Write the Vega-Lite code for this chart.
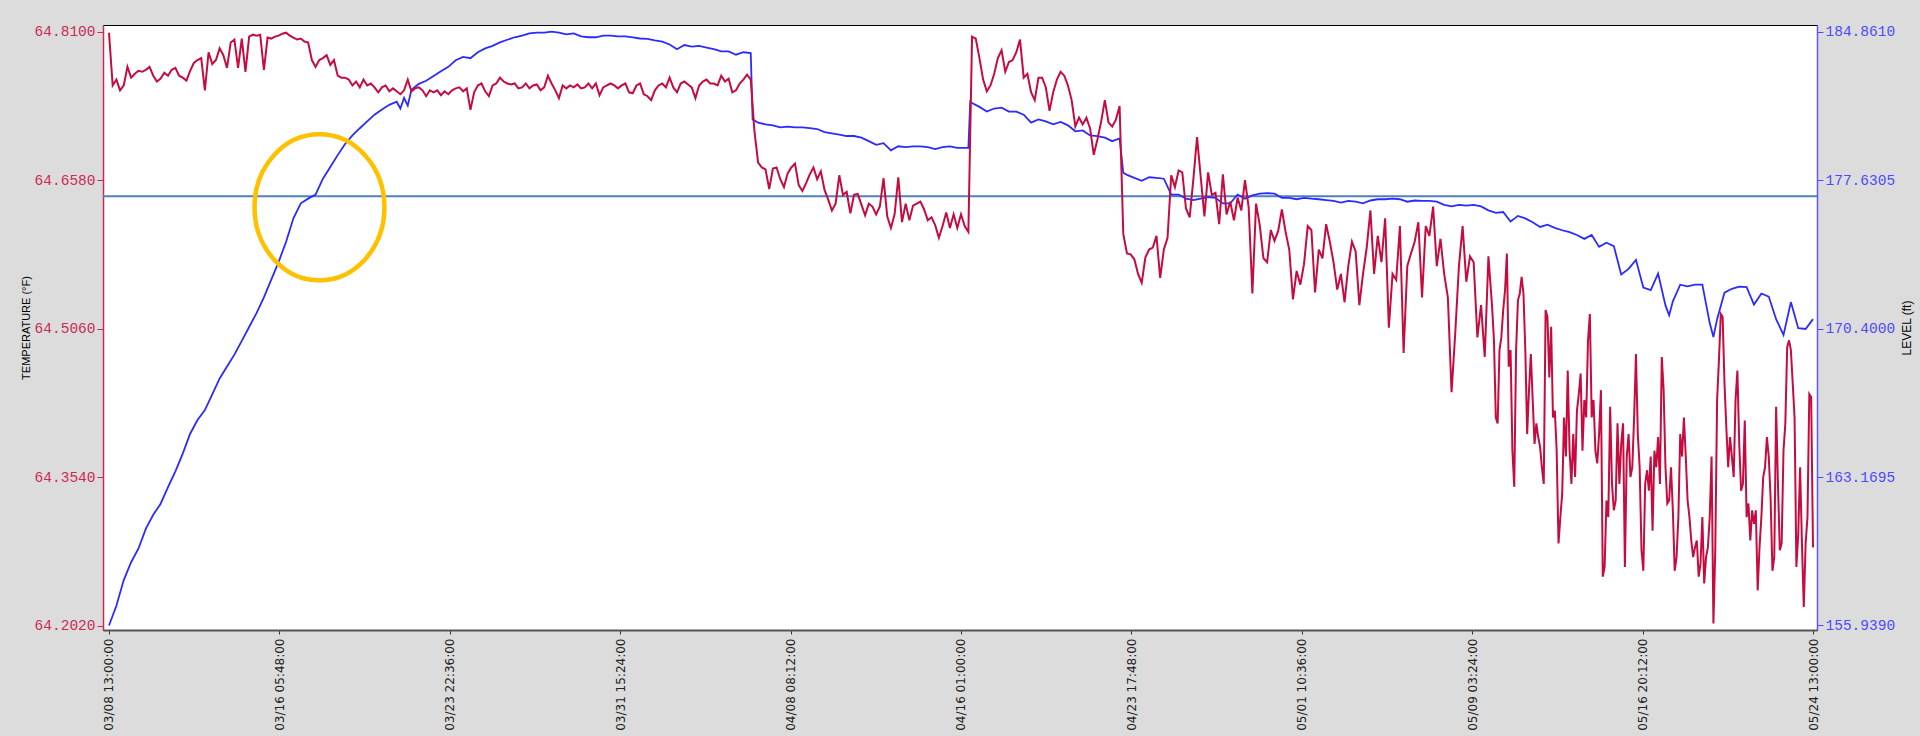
{
  "$schema": "https://vega.github.io/schema/vega-lite/v6.json",
  "width": 1714,
  "height": 605,
  "autosize": {"type": "none"},
  "padding": {"left": 103, "top": 25, "right": 103, "bottom": 106},
  "background": "#DCDCDC",
  "config": {
    "view": {"fill": "#FFFFFF", "stroke": "#000000", "strokeWidth": 1},
    "axis": {"grid": false},
    "axisX": {
      "orient": "bottom", "title": null,
      "format": "%m/%d %H:%M:%S", "labelAngle": 270,
      "labelFont": "DejaVu Sans", "labelFontSize": 12, "labelColor": "#222222", "labelPadding": 4,
      "tickSize": 4, "tickColor": "#333333", "domainColor": "#555555", "domainWidth": 2,
      "labelOverlap": false, "labelFlush": false, "labelBound": false
    }
  },
  "datasets": {
    "temperature": [
      {"time": "2011-03-08T13:00", "temp": 64.809}, {"time": "2011-03-08T17:00", "temp": 64.755}, {"time": "2011-03-08T21:00", "temp": 64.761},
      {"time": "2011-03-09T01:00", "temp": 64.750}, {"time": "2011-03-09T05:00", "temp": 64.755}, {"time": "2011-03-09T09:00", "temp": 64.774},
      {"time": "2011-03-09T13:00", "temp": 64.763}, {"time": "2011-03-09T17:00", "temp": 64.767}, {"time": "2011-03-09T21:00", "temp": 64.770},
      {"time": "2011-03-10T01:00", "temp": 64.769}, {"time": "2011-03-10T05:00", "temp": 64.771}, {"time": "2011-03-10T09:00", "temp": 64.774},
      {"time": "2011-03-10T13:00", "temp": 64.765}, {"time": "2011-03-10T17:00", "temp": 64.759}, {"time": "2011-03-10T21:00", "temp": 64.762},
      {"time": "2011-03-11T01:00", "temp": 64.768}, {"time": "2011-03-11T05:00", "temp": 64.765}, {"time": "2011-03-11T09:00", "temp": 64.771},
      {"time": "2011-03-11T13:00", "temp": 64.773}, {"time": "2011-03-11T17:00", "temp": 64.765}, {"time": "2011-03-11T21:00", "temp": 64.763},
      {"time": "2011-03-12T01:00", "temp": 64.760}, {"time": "2011-03-12T05:00", "temp": 64.770}, {"time": "2011-03-12T09:00", "temp": 64.778},
      {"time": "2011-03-12T13:00", "temp": 64.781}, {"time": "2011-03-12T17:00", "temp": 64.783}, {"time": "2011-03-12T21:00", "temp": 64.750},
      {"time": "2011-03-13T01:00", "temp": 64.789}, {"time": "2011-03-13T05:00", "temp": 64.777}, {"time": "2011-03-13T09:00", "temp": 64.781},
      {"time": "2011-03-13T13:00", "temp": 64.793}, {"time": "2011-03-13T17:00", "temp": 64.786}, {"time": "2011-03-13T21:00", "temp": 64.773},
      {"time": "2011-03-14T01:00", "temp": 64.799}, {"time": "2011-03-14T05:00", "temp": 64.802}, {"time": "2011-03-14T09:00", "temp": 64.773},
      {"time": "2011-03-14T13:00", "temp": 64.803}, {"time": "2011-03-14T17:00", "temp": 64.769}, {"time": "2011-03-14T21:00", "temp": 64.805},
      {"time": "2011-03-15T01:00", "temp": 64.807}, {"time": "2011-03-15T05:00", "temp": 64.806}, {"time": "2011-03-15T09:00", "temp": 64.807},
      {"time": "2011-03-15T13:00", "temp": 64.771}, {"time": "2011-03-15T17:00", "temp": 64.804}, {"time": "2011-03-15T21:00", "temp": 64.803},
      {"time": "2011-03-16T01:00", "temp": 64.805}, {"time": "2011-03-16T05:00", "temp": 64.806}, {"time": "2011-03-16T09:00", "temp": 64.808},
      {"time": "2011-03-16T13:00", "temp": 64.809}, {"time": "2011-03-16T17:00", "temp": 64.806}, {"time": "2011-03-16T21:00", "temp": 64.804},
      {"time": "2011-03-17T01:00", "temp": 64.802}, {"time": "2011-03-17T05:00", "temp": 64.803}, {"time": "2011-03-17T09:00", "temp": 64.800},
      {"time": "2011-03-17T13:00", "temp": 64.799}, {"time": "2011-03-17T17:00", "temp": 64.781}, {"time": "2011-03-17T21:00", "temp": 64.774},
      {"time": "2011-03-18T01:00", "temp": 64.781}, {"time": "2011-03-18T05:00", "temp": 64.783}, {"time": "2011-03-18T09:00", "temp": 64.786},
      {"time": "2011-03-18T13:00", "temp": 64.776}, {"time": "2011-03-18T17:00", "temp": 64.781}, {"time": "2011-03-18T21:00", "temp": 64.765},
      {"time": "2011-03-19T01:00", "temp": 64.763}, {"time": "2011-03-19T05:00", "temp": 64.763}, {"time": "2011-03-19T09:00", "temp": 64.761},
      {"time": "2011-03-19T13:00", "temp": 64.755}, {"time": "2011-03-19T17:00", "temp": 64.759}, {"time": "2011-03-19T21:00", "temp": 64.753},
      {"time": "2011-03-20T01:00", "temp": 64.761}, {"time": "2011-03-20T05:00", "temp": 64.755}, {"time": "2011-03-20T09:00", "temp": 64.757},
      {"time": "2011-03-20T13:00", "temp": 64.753}, {"time": "2011-03-20T17:00", "temp": 64.748}, {"time": "2011-03-20T21:00", "temp": 64.753},
      {"time": "2011-03-21T01:00", "temp": 64.755}, {"time": "2011-03-21T05:00", "temp": 64.749}, {"time": "2011-03-21T09:00", "temp": 64.752},
      {"time": "2011-03-21T13:00", "temp": 64.749}, {"time": "2011-03-21T17:00", "temp": 64.746}, {"time": "2011-03-21T21:00", "temp": 64.750},
      {"time": "2011-03-22T01:00", "temp": 64.761}, {"time": "2011-03-22T05:00", "temp": 64.749}, {"time": "2011-03-22T09:00", "temp": 64.752},
      {"time": "2011-03-22T13:00", "temp": 64.753}, {"time": "2011-03-22T17:00", "temp": 64.750}, {"time": "2011-03-22T21:00", "temp": 64.744},
      {"time": "2011-03-23T01:00", "temp": 64.750}, {"time": "2011-03-23T05:00", "temp": 64.748}, {"time": "2011-03-23T09:00", "temp": 64.750},
      {"time": "2011-03-23T13:00", "temp": 64.745}, {"time": "2011-03-23T17:00", "temp": 64.749}, {"time": "2011-03-23T21:00", "temp": 64.746},
      {"time": "2011-03-24T01:00", "temp": 64.750}, {"time": "2011-03-24T05:00", "temp": 64.752}, {"time": "2011-03-24T09:00", "temp": 64.753},
      {"time": "2011-03-24T13:00", "temp": 64.749}, {"time": "2011-03-24T17:00", "temp": 64.752}, {"time": "2011-03-24T21:00", "temp": 64.730},
      {"time": "2011-03-25T01:00", "temp": 64.748}, {"time": "2011-03-25T05:00", "temp": 64.755}, {"time": "2011-03-25T09:00", "temp": 64.757},
      {"time": "2011-03-25T13:00", "temp": 64.749}, {"time": "2011-03-25T17:00", "temp": 64.744}, {"time": "2011-03-25T21:00", "temp": 64.755},
      {"time": "2011-03-26T01:00", "temp": 64.757}, {"time": "2011-03-26T05:00", "temp": 64.763}, {"time": "2011-03-26T09:00", "temp": 64.759},
      {"time": "2011-03-26T13:00", "temp": 64.757}, {"time": "2011-03-26T17:00", "temp": 64.756}, {"time": "2011-03-26T21:00", "temp": 64.757},
      {"time": "2011-03-27T01:00", "temp": 64.752}, {"time": "2011-03-27T05:00", "temp": 64.753}, {"time": "2011-03-27T09:00", "temp": 64.757},
      {"time": "2011-03-27T13:00", "temp": 64.752}, {"time": "2011-03-27T17:00", "temp": 64.755}, {"time": "2011-03-27T21:00", "temp": 64.756},
      {"time": "2011-03-28T01:00", "temp": 64.750}, {"time": "2011-03-28T05:00", "temp": 64.753}, {"time": "2011-03-28T09:00", "temp": 64.765},
      {"time": "2011-03-28T13:00", "temp": 64.757}, {"time": "2011-03-28T17:00", "temp": 64.750}, {"time": "2011-03-28T21:00", "temp": 64.742},
      {"time": "2011-03-29T01:00", "temp": 64.755}, {"time": "2011-03-29T05:00", "temp": 64.752}, {"time": "2011-03-29T09:00", "temp": 64.755},
      {"time": "2011-03-29T13:00", "temp": 64.753}, {"time": "2011-03-29T17:00", "temp": 64.756}, {"time": "2011-03-29T21:00", "temp": 64.752},
      {"time": "2011-03-30T01:00", "temp": 64.753}, {"time": "2011-03-30T05:00", "temp": 64.757}, {"time": "2011-03-30T09:00", "temp": 64.752},
      {"time": "2011-03-30T13:00", "temp": 64.757}, {"time": "2011-03-30T17:00", "temp": 64.745}, {"time": "2011-03-30T21:00", "temp": 64.753},
      {"time": "2011-03-31T01:00", "temp": 64.755}, {"time": "2011-03-31T05:00", "temp": 64.757}, {"time": "2011-03-31T09:00", "temp": 64.755},
      {"time": "2011-03-31T13:00", "temp": 64.752}, {"time": "2011-03-31T17:00", "temp": 64.755}, {"time": "2011-03-31T21:00", "temp": 64.757},
      {"time": "2011-04-01T01:00", "temp": 64.748}, {"time": "2011-04-01T05:00", "temp": 64.747}, {"time": "2011-04-01T09:00", "temp": 64.755},
      {"time": "2011-04-01T13:00", "temp": 64.757}, {"time": "2011-04-01T17:00", "temp": 64.746}, {"time": "2011-04-01T21:00", "temp": 64.744},
      {"time": "2011-04-02T01:00", "temp": 64.740}, {"time": "2011-04-02T05:00", "temp": 64.750}, {"time": "2011-04-02T09:00", "temp": 64.755},
      {"time": "2011-04-02T13:00", "temp": 64.757}, {"time": "2011-04-02T17:00", "temp": 64.753}, {"time": "2011-04-02T21:00", "temp": 64.763},
      {"time": "2011-04-03T01:00", "temp": 64.753}, {"time": "2011-04-03T05:00", "temp": 64.748}, {"time": "2011-04-03T09:00", "temp": 64.757},
      {"time": "2011-04-03T13:00", "temp": 64.759}, {"time": "2011-04-03T17:00", "temp": 64.756}, {"time": "2011-04-03T21:00", "temp": 64.753},
      {"time": "2011-04-04T01:00", "temp": 64.742}, {"time": "2011-04-04T05:00", "temp": 64.755}, {"time": "2011-04-04T09:00", "temp": 64.759},
      {"time": "2011-04-04T13:00", "temp": 64.761}, {"time": "2011-04-04T17:00", "temp": 64.757}, {"time": "2011-04-04T21:00", "temp": 64.757},
      {"time": "2011-04-05T01:00", "temp": 64.755}, {"time": "2011-04-05T05:00", "temp": 64.765}, {"time": "2011-04-05T09:00", "temp": 64.759},
      {"time": "2011-04-05T13:00", "temp": 64.762}, {"time": "2011-04-05T17:00", "temp": 64.748}, {"time": "2011-04-05T21:00", "temp": 64.750},
      {"time": "2011-04-06T01:00", "temp": 64.757}, {"time": "2011-04-06T05:00", "temp": 64.761}, {"time": "2011-04-06T09:00", "temp": 64.766},
      {"time": "2011-04-06T13:00", "temp": 64.761}, {"time": "2011-04-06T17:00", "temp": 64.708}, {"time": "2011-04-06T21:00", "temp": 64.676},
      {"time": "2011-04-07T01:00", "temp": 64.671}, {"time": "2011-04-07T05:00", "temp": 64.669}, {"time": "2011-04-07T09:00", "temp": 64.649},
      {"time": "2011-04-07T13:00", "temp": 64.670}, {"time": "2011-04-07T17:00", "temp": 64.671}, {"time": "2011-04-07T21:00", "temp": 64.659},
      {"time": "2011-04-08T01:00", "temp": 64.651}, {"time": "2011-04-08T05:00", "temp": 64.665}, {"time": "2011-04-08T09:00", "temp": 64.671},
      {"time": "2011-04-08T13:00", "temp": 64.675}, {"time": "2011-04-08T17:00", "temp": 64.653}, {"time": "2011-04-08T21:00", "temp": 64.647},
      {"time": "2011-04-09T01:00", "temp": 64.655}, {"time": "2011-04-09T05:00", "temp": 64.664}, {"time": "2011-04-09T09:00", "temp": 64.671},
      {"time": "2011-04-09T13:00", "temp": 64.659}, {"time": "2011-04-09T17:00", "temp": 64.667}, {"time": "2011-04-09T21:00", "temp": 64.648},
      {"time": "2011-04-10T01:00", "temp": 64.638}, {"time": "2011-04-10T05:00", "temp": 64.627}, {"time": "2011-04-10T09:00", "temp": 64.634},
      {"time": "2011-04-10T13:00", "temp": 64.663}, {"time": "2011-04-10T17:00", "temp": 64.643}, {"time": "2011-04-10T21:00", "temp": 64.646},
      {"time": "2011-04-11T01:00", "temp": 64.624}, {"time": "2011-04-11T05:00", "temp": 64.643}, {"time": "2011-04-11T09:00", "temp": 64.644},
      {"time": "2011-04-11T13:00", "temp": 64.633}, {"time": "2011-04-11T17:00", "temp": 64.622}, {"time": "2011-04-11T21:00", "temp": 64.634},
      {"time": "2011-04-12T01:00", "temp": 64.631}, {"time": "2011-04-12T05:00", "temp": 64.623}, {"time": "2011-04-12T09:00", "temp": 64.631},
      {"time": "2011-04-12T13:00", "temp": 64.660}, {"time": "2011-04-12T17:00", "temp": 64.621}, {"time": "2011-04-12T21:00", "temp": 64.609},
      {"time": "2011-04-13T01:00", "temp": 64.623}, {"time": "2011-04-13T05:00", "temp": 64.661}, {"time": "2011-04-13T09:00", "temp": 64.615},
      {"time": "2011-04-13T13:00", "temp": 64.634}, {"time": "2011-04-13T17:00", "temp": 64.617}, {"time": "2011-04-13T21:00", "temp": 64.632},
      {"time": "2011-04-14T01:00", "temp": 64.634}, {"time": "2011-04-14T05:00", "temp": 64.636}, {"time": "2011-04-14T09:00", "temp": 64.628},
      {"time": "2011-04-14T13:00", "temp": 64.617}, {"time": "2011-04-14T17:00", "temp": 64.620}, {"time": "2011-04-14T21:00", "temp": 64.612},
      {"time": "2011-04-15T01:00", "temp": 64.599}, {"time": "2011-04-15T05:00", "temp": 64.611}, {"time": "2011-04-15T09:00", "temp": 64.625},
      {"time": "2011-04-15T13:00", "temp": 64.609}, {"time": "2011-04-15T17:00", "temp": 64.623}, {"time": "2011-04-15T21:00", "temp": 64.609},
      {"time": "2011-04-16T01:00", "temp": 64.623}, {"time": "2011-04-16T05:00", "temp": 64.611}, {"time": "2011-04-16T09:00", "temp": 64.605},
      {"time": "2011-04-16T13:00", "temp": 64.805}, {"time": "2011-04-16T17:00", "temp": 64.803}, {"time": "2011-04-16T21:00", "temp": 64.783},
      {"time": "2011-04-17T01:00", "temp": 64.761}, {"time": "2011-04-17T05:00", "temp": 64.749}, {"time": "2011-04-17T09:00", "temp": 64.755},
      {"time": "2011-04-17T13:00", "temp": 64.767}, {"time": "2011-04-17T17:00", "temp": 64.783}, {"time": "2011-04-17T21:00", "temp": 64.791},
      {"time": "2011-04-18T01:00", "temp": 64.769}, {"time": "2011-04-18T05:00", "temp": 64.779}, {"time": "2011-04-18T09:00", "temp": 64.781},
      {"time": "2011-04-18T13:00", "temp": 64.789}, {"time": "2011-04-18T17:00", "temp": 64.802}, {"time": "2011-04-18T21:00", "temp": 64.763},
      {"time": "2011-04-19T01:00", "temp": 64.767}, {"time": "2011-04-19T05:00", "temp": 64.748}, {"time": "2011-04-19T09:00", "temp": 64.740},
      {"time": "2011-04-19T13:00", "temp": 64.763}, {"time": "2011-04-19T17:00", "temp": 64.763}, {"time": "2011-04-19T21:00", "temp": 64.753},
      {"time": "2011-04-20T01:00", "temp": 64.729}, {"time": "2011-04-20T05:00", "temp": 64.748}, {"time": "2011-04-20T09:00", "temp": 64.761},
      {"time": "2011-04-20T13:00", "temp": 64.769}, {"time": "2011-04-20T17:00", "temp": 64.765}, {"time": "2011-04-20T21:00", "temp": 64.755},
      {"time": "2011-04-21T01:00", "temp": 64.740}, {"time": "2011-04-21T05:00", "temp": 64.713}, {"time": "2011-04-21T09:00", "temp": 64.722},
      {"time": "2011-04-21T13:00", "temp": 64.715}, {"time": "2011-04-21T17:00", "temp": 64.722}, {"time": "2011-04-21T21:00", "temp": 64.711},
      {"time": "2011-04-22T01:00", "temp": 64.684}, {"time": "2011-04-22T05:00", "temp": 64.700}, {"time": "2011-04-22T09:00", "temp": 64.718},
      {"time": "2011-04-22T13:00", "temp": 64.740}, {"time": "2011-04-22T17:00", "temp": 64.717}, {"time": "2011-04-22T21:00", "temp": 64.713},
      {"time": "2011-04-23T01:00", "temp": 64.720}, {"time": "2011-04-23T05:00", "temp": 64.734}, {"time": "2011-04-23T09:00", "temp": 64.603},
      {"time": "2011-04-23T13:00", "temp": 64.583}, {"time": "2011-04-23T17:00", "temp": 64.582}, {"time": "2011-04-23T21:00", "temp": 64.577},
      {"time": "2011-04-24T01:00", "temp": 64.562}, {"time": "2011-04-24T05:00", "temp": 64.553}, {"time": "2011-04-24T09:00", "temp": 64.579},
      {"time": "2011-04-24T13:00", "temp": 64.587}, {"time": "2011-04-24T17:00", "temp": 64.589}, {"time": "2011-04-24T21:00", "temp": 64.601},
      {"time": "2011-04-25T01:00", "temp": 64.558}, {"time": "2011-04-25T05:00", "temp": 64.587}, {"time": "2011-04-25T09:00", "temp": 64.599},
      {"time": "2011-04-25T13:00", "temp": 64.663}, {"time": "2011-04-25T17:00", "temp": 64.651}, {"time": "2011-04-25T21:00", "temp": 64.668},
      {"time": "2011-04-26T01:00", "temp": 64.666}, {"time": "2011-04-26T05:00", "temp": 64.629}, {"time": "2011-04-26T09:00", "temp": 64.620},
      {"time": "2011-04-26T13:00", "temp": 64.659}, {"time": "2011-04-26T17:00", "temp": 64.702}, {"time": "2011-04-26T21:00", "temp": 64.661},
      {"time": "2011-04-27T01:00", "temp": 64.621}, {"time": "2011-04-27T05:00", "temp": 64.666}, {"time": "2011-04-27T09:00", "temp": 64.643},
      {"time": "2011-04-27T13:00", "temp": 64.645}, {"time": "2011-04-27T17:00", "temp": 64.613}, {"time": "2011-04-27T21:00", "temp": 64.664},
      {"time": "2011-04-28T01:00", "temp": 64.623}, {"time": "2011-04-28T05:00", "temp": 64.636}, {"time": "2011-04-28T09:00", "temp": 64.617},
      {"time": "2011-04-28T13:00", "temp": 64.640}, {"time": "2011-04-28T17:00", "temp": 64.627}, {"time": "2011-04-28T21:00", "temp": 64.658},
      {"time": "2011-04-29T01:00", "temp": 64.630}, {"time": "2011-04-29T05:00", "temp": 64.542}, {"time": "2011-04-29T09:00", "temp": 64.634},
      {"time": "2011-04-29T13:00", "temp": 64.612}, {"time": "2011-04-29T17:00", "temp": 64.578}, {"time": "2011-04-29T21:00", "temp": 64.574},
      {"time": "2011-04-30T01:00", "temp": 64.607}, {"time": "2011-04-30T05:00", "temp": 64.596}, {"time": "2011-04-30T09:00", "temp": 64.606},
      {"time": "2011-04-30T13:00", "temp": 64.628}, {"time": "2011-04-30T17:00", "temp": 64.605}, {"time": "2011-04-30T21:00", "temp": 64.587},
      {"time": "2011-05-01T01:00", "temp": 64.536}, {"time": "2011-05-01T05:00", "temp": 64.565}, {"time": "2011-05-01T09:00", "temp": 64.551},
      {"time": "2011-05-01T13:00", "temp": 64.572}, {"time": "2011-05-01T17:00", "temp": 64.611}, {"time": "2011-05-01T21:00", "temp": 64.607},
      {"time": "2011-05-02T01:00", "temp": 64.543}, {"time": "2011-05-02T05:00", "temp": 64.587}, {"time": "2011-05-02T09:00", "temp": 64.578},
      {"time": "2011-05-02T13:00", "temp": 64.613}, {"time": "2011-05-02T17:00", "temp": 64.595}, {"time": "2011-05-02T21:00", "temp": 64.574},
      {"time": "2011-05-03T01:00", "temp": 64.546}, {"time": "2011-05-03T05:00", "temp": 64.562}, {"time": "2011-05-03T09:00", "temp": 64.533},
      {"time": "2011-05-03T13:00", "temp": 64.570}, {"time": "2011-05-03T17:00", "temp": 64.595}, {"time": "2011-05-03T21:00", "temp": 64.585},
      {"time": "2011-05-04T01:00", "temp": 64.530}, {"time": "2011-05-04T05:00", "temp": 64.562}, {"time": "2011-05-04T09:00", "temp": 64.589},
      {"time": "2011-05-04T13:00", "temp": 64.627}, {"time": "2011-05-04T17:00", "temp": 64.562}, {"time": "2011-05-04T21:00", "temp": 64.601},
      {"time": "2011-05-05T01:00", "temp": 64.574}, {"time": "2011-05-05T05:00", "temp": 64.619}, {"time": "2011-05-05T09:00", "temp": 64.507},
      {"time": "2011-05-05T13:00", "temp": 64.562}, {"time": "2011-05-05T17:00", "temp": 64.556}, {"time": "2011-05-05T21:00", "temp": 64.611},
      {"time": "2011-05-06T01:00", "temp": 64.481}, {"time": "2011-05-06T05:00", "temp": 64.570}, {"time": "2011-05-06T09:00", "temp": 64.583},
      {"time": "2011-05-06T13:00", "temp": 64.595}, {"time": "2011-05-06T17:00", "temp": 64.615}, {"time": "2011-05-06T21:00", "temp": 64.538},
      {"time": "2011-05-07T01:00", "temp": 64.611}, {"time": "2011-05-07T05:00", "temp": 64.601}, {"time": "2011-05-07T09:00", "temp": 64.631},
      {"time": "2011-05-07T13:00", "temp": 64.570}, {"time": "2011-05-07T17:00", "temp": 64.598}, {"time": "2011-05-07T21:00", "temp": 64.562},
      {"time": "2011-05-08T01:00", "temp": 64.538}, {"time": "2011-05-08T05:00", "temp": 64.441}, {"time": "2011-05-08T09:00", "temp": 64.501},
      {"time": "2011-05-08T13:00", "temp": 64.570}, {"time": "2011-05-08T17:00", "temp": 64.611}, {"time": "2011-05-08T21:00", "temp": 64.554},
      {"time": "2011-05-09T01:00", "temp": 64.580}, {"time": "2011-05-09T05:00", "temp": 64.574}, {"time": "2011-05-09T09:00", "temp": 64.497},
      {"time": "2011-05-09T13:00", "temp": 64.530}, {"time": "2011-05-09T17:00", "temp": 64.477}, {"time": "2011-05-09T21:00", "temp": 64.580},
      {"time": "2011-05-10T01:00", "temp": 64.528}, {"time": "2011-05-10T03:00", "temp": 64.494}, {"time": "2011-05-10T05:00", "temp": 64.415},
      {"time": "2011-05-10T07:00", "temp": 64.409}, {"time": "2011-05-10T09:00", "temp": 64.484}, {"time": "2011-05-10T11:00", "temp": 64.497},
      {"time": "2011-05-10T13:00", "temp": 64.525}, {"time": "2011-05-10T15:00", "temp": 64.545}, {"time": "2011-05-10T17:00", "temp": 64.583},
      {"time": "2011-05-10T19:00", "temp": 64.467}, {"time": "2011-05-10T21:00", "temp": 64.484}, {"time": "2011-05-10T23:00", "temp": 64.381},
      {"time": "2011-05-11T01:00", "temp": 64.344}, {"time": "2011-05-11T03:00", "temp": 64.484}, {"time": "2011-05-11T05:00", "temp": 64.535},
      {"time": "2011-05-11T07:00", "temp": 64.542}, {"time": "2011-05-11T09:00", "temp": 64.559}, {"time": "2011-05-11T11:00", "temp": 64.542},
      {"time": "2011-05-11T13:00", "temp": 64.484}, {"time": "2011-05-11T15:00", "temp": 64.398}, {"time": "2011-05-11T17:00", "temp": 64.443},
      {"time": "2011-05-11T19:00", "temp": 64.480}, {"time": "2011-05-11T21:00", "temp": 64.433}, {"time": "2011-05-11T23:00", "temp": 64.388},
      {"time": "2011-05-12T01:00", "temp": 64.409}, {"time": "2011-05-12T03:00", "temp": 64.395}, {"time": "2011-05-12T05:00", "temp": 64.385},
      {"time": "2011-05-12T07:00", "temp": 64.364}, {"time": "2011-05-12T09:00", "temp": 64.347}, {"time": "2011-05-12T11:00", "temp": 64.525},
      {"time": "2011-05-12T13:00", "temp": 64.518}, {"time": "2011-05-12T15:00", "temp": 64.456}, {"time": "2011-05-12T17:00", "temp": 64.508},
      {"time": "2011-05-12T19:00", "temp": 64.415}, {"time": "2011-05-12T21:00", "temp": 64.422}, {"time": "2011-05-12T23:00", "temp": 64.381},
      {"time": "2011-05-13T01:00", "temp": 64.286}, {"time": "2011-05-13T03:00", "temp": 64.313}, {"time": "2011-05-13T05:00", "temp": 64.337},
      {"time": "2011-05-13T07:00", "temp": 64.415}, {"time": "2011-05-13T09:00", "temp": 64.375}, {"time": "2011-05-13T11:00", "temp": 64.463},
      {"time": "2011-05-13T13:00", "temp": 64.381}, {"time": "2011-05-13T15:00", "temp": 64.347}, {"time": "2011-05-13T17:00", "temp": 64.398},
      {"time": "2011-05-13T19:00", "temp": 64.354}, {"time": "2011-05-13T21:00", "temp": 64.422}, {"time": "2011-05-13T23:00", "temp": 64.439},
      {"time": "2011-05-14T01:00", "temp": 64.460}, {"time": "2011-05-14T03:00", "temp": 64.381}, {"time": "2011-05-14T05:00", "temp": 64.433},
      {"time": "2011-05-14T07:00", "temp": 64.415}, {"time": "2011-05-14T09:00", "temp": 64.494}, {"time": "2011-05-14T11:00", "temp": 64.521},
      {"time": "2011-05-14T13:00", "temp": 64.415}, {"time": "2011-05-14T15:00", "temp": 64.433}, {"time": "2011-05-14T17:00", "temp": 64.381},
      {"time": "2011-05-14T19:00", "temp": 64.368}, {"time": "2011-05-14T21:00", "temp": 64.398}, {"time": "2011-05-14T23:00", "temp": 64.443},
      {"time": "2011-05-15T01:00", "temp": 64.252}, {"time": "2011-05-15T03:00", "temp": 64.262}, {"time": "2011-05-15T05:00", "temp": 64.330},
      {"time": "2011-05-15T07:00", "temp": 64.313}, {"time": "2011-05-15T09:00", "temp": 64.426}, {"time": "2011-05-15T11:00", "temp": 64.347},
      {"time": "2011-05-15T13:00", "temp": 64.320}, {"time": "2011-05-15T15:00", "temp": 64.330}, {"time": "2011-05-15T17:00", "temp": 64.409},
      {"time": "2011-05-15T19:00", "temp": 64.347}, {"time": "2011-05-15T21:00", "temp": 64.388}, {"time": "2011-05-15T23:00", "temp": 64.409},
      {"time": "2011-05-16T01:00", "temp": 64.262}, {"time": "2011-05-16T03:00", "temp": 64.375}, {"time": "2011-05-16T05:00", "temp": 64.398},
      {"time": "2011-05-16T07:00", "temp": 64.354}, {"time": "2011-05-16T09:00", "temp": 64.364}, {"time": "2011-05-16T11:00", "temp": 64.415},
      {"time": "2011-05-16T13:00", "temp": 64.480}, {"time": "2011-05-16T15:00", "temp": 64.398}, {"time": "2011-05-16T17:00", "temp": 64.364},
      {"time": "2011-05-16T19:00", "temp": 64.279}, {"time": "2011-05-16T21:00", "temp": 64.258}, {"time": "2011-05-16T23:00", "temp": 64.347},
      {"time": "2011-05-17T01:00", "temp": 64.361}, {"time": "2011-05-17T03:00", "temp": 64.340}, {"time": "2011-05-17T05:00", "temp": 64.375},
      {"time": "2011-05-17T07:00", "temp": 64.299}, {"time": "2011-05-17T09:00", "temp": 64.381}, {"time": "2011-05-17T11:00", "temp": 64.364},
      {"time": "2011-05-17T13:00", "temp": 64.395}, {"time": "2011-05-17T15:00", "temp": 64.347}, {"time": "2011-05-17T17:00", "temp": 64.477},
      {"time": "2011-05-17T19:00", "temp": 64.443}, {"time": "2011-05-17T21:00", "temp": 64.364}, {"time": "2011-05-17T23:00", "temp": 64.327},
      {"time": "2011-05-18T01:00", "temp": 64.330}, {"time": "2011-05-18T03:00", "temp": 64.364}, {"time": "2011-05-18T05:00", "temp": 64.320},
      {"time": "2011-05-18T07:00", "temp": 64.258}, {"time": "2011-05-18T09:00", "temp": 64.272}, {"time": "2011-05-18T11:00", "temp": 64.313},
      {"time": "2011-05-18T13:00", "temp": 64.398}, {"time": "2011-05-18T15:00", "temp": 64.375}, {"time": "2011-05-18T17:00", "temp": 64.415},
      {"time": "2011-05-18T19:00", "temp": 64.375}, {"time": "2011-05-18T21:00", "temp": 64.330}, {"time": "2011-05-18T23:00", "temp": 64.313},
      {"time": "2011-05-19T01:00", "temp": 64.289}, {"time": "2011-05-19T03:00", "temp": 64.272}, {"time": "2011-05-19T05:00", "temp": 64.282},
      {"time": "2011-05-19T07:00", "temp": 64.289}, {"time": "2011-05-19T09:00", "temp": 64.252}, {"time": "2011-05-19T11:00", "temp": 64.265},
      {"time": "2011-05-19T13:00", "temp": 64.313}, {"time": "2011-05-19T15:00", "temp": 64.245}, {"time": "2011-05-19T17:00", "temp": 64.272},
      {"time": "2011-05-19T19:00", "temp": 64.282}, {"time": "2011-05-19T21:00", "temp": 64.313}, {"time": "2011-05-19T23:00", "temp": 64.375},
      {"time": "2011-05-20T01:00", "temp": 64.204}, {"time": "2011-05-20T03:00", "temp": 64.279}, {"time": "2011-05-20T05:00", "temp": 64.433},
      {"time": "2011-05-20T07:00", "temp": 64.474}, {"time": "2011-05-20T09:00", "temp": 64.521}, {"time": "2011-05-20T11:00", "temp": 64.518},
      {"time": "2011-05-20T13:00", "temp": 64.450}, {"time": "2011-05-20T15:00", "temp": 64.405}, {"time": "2011-05-20T17:00", "temp": 64.364},
      {"time": "2011-05-20T19:00", "temp": 64.395}, {"time": "2011-05-20T21:00", "temp": 64.375}, {"time": "2011-05-20T23:00", "temp": 64.354},
      {"time": "2011-05-21T01:00", "temp": 64.433}, {"time": "2011-05-21T03:00", "temp": 64.463}, {"time": "2011-05-21T05:00", "temp": 64.388},
      {"time": "2011-05-21T07:00", "temp": 64.340}, {"time": "2011-05-21T09:00", "temp": 64.347}, {"time": "2011-05-21T11:00", "temp": 64.412},
      {"time": "2011-05-21T13:00", "temp": 64.313}, {"time": "2011-05-21T15:00", "temp": 64.327}, {"time": "2011-05-21T17:00", "temp": 64.289},
      {"time": "2011-05-21T19:00", "temp": 64.320}, {"time": "2011-05-21T21:00", "temp": 64.306}, {"time": "2011-05-21T23:00", "temp": 64.320},
      {"time": "2011-05-22T01:00", "temp": 64.238}, {"time": "2011-05-22T03:00", "temp": 64.282}, {"time": "2011-05-22T05:00", "temp": 64.313},
      {"time": "2011-05-22T07:00", "temp": 64.354}, {"time": "2011-05-22T09:00", "temp": 64.364}, {"time": "2011-05-22T11:00", "temp": 64.395},
      {"time": "2011-05-22T13:00", "temp": 64.375}, {"time": "2011-05-22T15:00", "temp": 64.333}, {"time": "2011-05-22T17:00", "temp": 64.258},
      {"time": "2011-05-22T19:00", "temp": 64.272}, {"time": "2011-05-22T21:00", "temp": 64.426}, {"time": "2011-05-22T23:00", "temp": 64.347},
      {"time": "2011-05-23T01:00", "temp": 64.279}, {"time": "2011-05-23T03:00", "temp": 64.286}, {"time": "2011-05-23T05:00", "temp": 64.381},
      {"time": "2011-05-23T07:00", "temp": 64.409}, {"time": "2011-05-23T09:00", "temp": 64.487}, {"time": "2011-05-23T11:00", "temp": 64.494},
      {"time": "2011-05-23T13:00", "temp": 64.484}, {"time": "2011-05-23T15:00", "temp": 64.450}, {"time": "2011-05-23T17:00", "temp": 64.415},
      {"time": "2011-05-23T19:00", "temp": 64.262}, {"time": "2011-05-23T21:00", "temp": 64.296}, {"time": "2011-05-23T23:00", "temp": 64.364},
      {"time": "2011-05-24T01:00", "temp": 64.286}, {"time": "2011-05-24T03:00", "temp": 64.221}, {"time": "2011-05-24T05:00", "temp": 64.286},
      {"time": "2011-05-24T07:00", "temp": 64.313}, {"time": "2011-05-24T09:00", "temp": 64.439}, {"time": "2011-05-24T11:00", "temp": 64.436},
      {"time": "2011-05-24T13:00", "temp": 64.282}
    ],
    "level": [
      {"time": "2011-03-08T13:00", "level": 155.94}, {"time": "2011-03-08T21:00", "level": 156.90}, {"time": "2011-03-09T05:00", "level": 158.15},
      {"time": "2011-03-09T13:00", "level": 159.02}, {"time": "2011-03-09T21:00", "level": 159.69}, {"time": "2011-03-10T05:00", "level": 160.66},
      {"time": "2011-03-10T13:00", "level": 161.33}, {"time": "2011-03-10T21:00", "level": 161.87}, {"time": "2011-03-11T05:00", "level": 162.68},
      {"time": "2011-03-11T13:00", "level": 163.45}, {"time": "2011-03-11T21:00", "level": 164.31}, {"time": "2011-03-12T05:00", "level": 165.28},
      {"time": "2011-03-12T13:00", "level": 165.95}, {"time": "2011-03-12T21:00", "level": 166.43}, {"time": "2011-03-13T05:00", "level": 167.20},
      {"time": "2011-03-13T13:00", "level": 167.97}, {"time": "2011-03-13T21:00", "level": 168.55}, {"time": "2011-03-14T05:00", "level": 169.13},
      {"time": "2011-03-14T13:00", "level": 169.80}, {"time": "2011-03-14T21:00", "level": 170.48}, {"time": "2011-03-15T05:00", "level": 171.15},
      {"time": "2011-03-15T13:00", "level": 171.92}, {"time": "2011-03-15T21:00", "level": 172.79}, {"time": "2011-03-16T05:00", "level": 173.65},
      {"time": "2011-03-16T13:00", "level": 174.62}, {"time": "2011-03-16T21:00", "level": 175.77}, {"time": "2011-03-17T05:00", "level": 176.50},
      {"time": "2011-03-17T13:00", "level": 176.73}, {"time": "2011-03-17T21:00", "level": 176.93}, {"time": "2011-03-18T05:00", "level": 177.70},
      {"time": "2011-03-18T13:00", "level": 178.27}, {"time": "2011-03-18T21:00", "level": 178.85}, {"time": "2011-03-19T05:00", "level": 179.39},
      {"time": "2011-03-19T13:00", "level": 179.81}, {"time": "2011-03-19T21:00", "level": 180.16}, {"time": "2011-03-20T05:00", "level": 180.49},
      {"time": "2011-03-20T13:00", "level": 180.82}, {"time": "2011-03-20T21:00", "level": 181.07}, {"time": "2011-03-21T05:00", "level": 181.30},
      {"time": "2011-03-21T13:00", "level": 181.45}, {"time": "2011-03-21T17:00", "level": 181.12}, {"time": "2011-03-21T21:00", "level": 181.64},
      {"time": "2011-03-22T01:00", "level": 181.26}, {"time": "2011-03-22T05:00", "level": 182.03}, {"time": "2011-03-22T13:00", "level": 182.32},
      {"time": "2011-03-22T21:00", "level": 182.47}, {"time": "2011-03-23T05:00", "level": 182.70}, {"time": "2011-03-23T13:00", "level": 182.93},
      {"time": "2011-03-23T21:00", "level": 183.15}, {"time": "2011-03-24T05:00", "level": 183.47}, {"time": "2011-03-24T13:00", "level": 183.63},
      {"time": "2011-03-24T21:00", "level": 183.57}, {"time": "2011-03-25T05:00", "level": 183.86}, {"time": "2011-03-25T13:00", "level": 184.05},
      {"time": "2011-03-25T21:00", "level": 184.17}, {"time": "2011-03-26T05:00", "level": 184.34}, {"time": "2011-03-26T13:00", "level": 184.47},
      {"time": "2011-03-26T21:00", "level": 184.59}, {"time": "2011-03-27T05:00", "level": 184.67}, {"time": "2011-03-27T13:00", "level": 184.78},
      {"time": "2011-03-27T21:00", "level": 184.82}, {"time": "2011-03-28T05:00", "level": 184.82}, {"time": "2011-03-28T13:00", "level": 184.86},
      {"time": "2011-03-28T21:00", "level": 184.82}, {"time": "2011-03-29T05:00", "level": 184.73}, {"time": "2011-03-29T13:00", "level": 184.78},
      {"time": "2011-03-29T21:00", "level": 184.63}, {"time": "2011-03-30T05:00", "level": 184.59}, {"time": "2011-03-30T13:00", "level": 184.59},
      {"time": "2011-03-30T21:00", "level": 184.67}, {"time": "2011-03-31T05:00", "level": 184.67}, {"time": "2011-03-31T13:00", "level": 184.63},
      {"time": "2011-03-31T21:00", "level": 184.63}, {"time": "2011-04-01T05:00", "level": 184.59}, {"time": "2011-04-01T13:00", "level": 184.53},
      {"time": "2011-04-01T21:00", "level": 184.51}, {"time": "2011-04-02T05:00", "level": 184.44}, {"time": "2011-04-02T13:00", "level": 184.38},
      {"time": "2011-04-02T21:00", "level": 184.24}, {"time": "2011-04-03T05:00", "level": 184.01}, {"time": "2011-04-03T13:00", "level": 184.21},
      {"time": "2011-04-03T21:00", "level": 184.13}, {"time": "2011-04-04T05:00", "level": 184.17}, {"time": "2011-04-04T13:00", "level": 184.09},
      {"time": "2011-04-04T21:00", "level": 184.01}, {"time": "2011-04-05T05:00", "level": 183.90}, {"time": "2011-04-05T13:00", "level": 183.90},
      {"time": "2011-04-05T21:00", "level": 183.74}, {"time": "2011-04-06T05:00", "level": 183.86}, {"time": "2011-04-06T13:00", "level": 183.82},
      {"time": "2011-04-06T15:00", "level": 180.59}, {"time": "2011-04-06T21:00", "level": 180.43}, {"time": "2011-04-07T05:00", "level": 180.35},
      {"time": "2011-04-07T13:00", "level": 180.30}, {"time": "2011-04-07T21:00", "level": 180.20}, {"time": "2011-04-08T05:00", "level": 180.24},
      {"time": "2011-04-08T13:00", "level": 180.20}, {"time": "2011-04-08T21:00", "level": 180.20}, {"time": "2011-04-09T05:00", "level": 180.16},
      {"time": "2011-04-09T13:00", "level": 180.12}, {"time": "2011-04-09T21:00", "level": 179.97}, {"time": "2011-04-10T05:00", "level": 179.91},
      {"time": "2011-04-10T13:00", "level": 179.85}, {"time": "2011-04-10T21:00", "level": 179.78}, {"time": "2011-04-11T05:00", "level": 179.78},
      {"time": "2011-04-11T13:00", "level": 179.70}, {"time": "2011-04-11T21:00", "level": 179.53}, {"time": "2011-04-12T05:00", "level": 179.35},
      {"time": "2011-04-12T13:00", "level": 179.43}, {"time": "2011-04-12T21:00", "level": 179.08}, {"time": "2011-04-13T05:00", "level": 179.28},
      {"time": "2011-04-13T13:00", "level": 179.24}, {"time": "2011-04-13T21:00", "level": 179.28}, {"time": "2011-04-14T05:00", "level": 179.28},
      {"time": "2011-04-14T13:00", "level": 179.24}, {"time": "2011-04-14T21:00", "level": 179.14}, {"time": "2011-04-15T05:00", "level": 179.24},
      {"time": "2011-04-15T13:00", "level": 179.28}, {"time": "2011-04-15T21:00", "level": 179.20}, {"time": "2011-04-16T05:00", "level": 179.20},
      {"time": "2011-04-16T09:00", "level": 179.20}, {"time": "2011-04-16T11:00", "level": 181.45}, {"time": "2011-04-16T13:00", "level": 181.39},
      {"time": "2011-04-16T21:00", "level": 181.20}, {"time": "2011-04-17T05:00", "level": 180.97}, {"time": "2011-04-17T13:00", "level": 181.12},
      {"time": "2011-04-17T21:00", "level": 181.16}, {"time": "2011-04-18T05:00", "level": 180.97}, {"time": "2011-04-18T13:00", "level": 180.97},
      {"time": "2011-04-18T21:00", "level": 180.82}, {"time": "2011-04-19T05:00", "level": 180.43}, {"time": "2011-04-19T13:00", "level": 180.59},
      {"time": "2011-04-19T21:00", "level": 180.49}, {"time": "2011-04-20T05:00", "level": 180.35}, {"time": "2011-04-20T13:00", "level": 180.47},
      {"time": "2011-04-20T21:00", "level": 180.30}, {"time": "2011-04-21T05:00", "level": 180.01}, {"time": "2011-04-21T13:00", "level": 180.05},
      {"time": "2011-04-21T21:00", "level": 179.81}, {"time": "2011-04-22T05:00", "level": 179.78}, {"time": "2011-04-22T13:00", "level": 179.70},
      {"time": "2011-04-22T21:00", "level": 179.53}, {"time": "2011-04-23T05:00", "level": 179.66}, {"time": "2011-04-23T09:00", "level": 177.99},
      {"time": "2011-04-23T13:00", "level": 177.89}, {"time": "2011-04-23T21:00", "level": 177.74}, {"time": "2011-04-24T05:00", "level": 177.60},
      {"time": "2011-04-24T13:00", "level": 177.77}, {"time": "2011-04-24T21:00", "level": 177.74}, {"time": "2011-04-25T05:00", "level": 177.70},
      {"time": "2011-04-25T13:00", "level": 176.93}, {"time": "2011-04-25T21:00", "level": 176.93}, {"time": "2011-04-26T05:00", "level": 176.73},
      {"time": "2011-04-26T13:00", "level": 176.66}, {"time": "2011-04-26T21:00", "level": 176.73}, {"time": "2011-04-27T05:00", "level": 176.81},
      {"time": "2011-04-27T13:00", "level": 176.77}, {"time": "2011-04-27T21:00", "level": 176.50}, {"time": "2011-04-28T05:00", "level": 176.50},
      {"time": "2011-04-28T13:00", "level": 176.93}, {"time": "2011-04-28T21:00", "level": 176.73}, {"time": "2011-04-29T05:00", "level": 176.89},
      {"time": "2011-04-29T13:00", "level": 176.97}, {"time": "2011-04-29T21:00", "level": 177.00}, {"time": "2011-04-30T05:00", "level": 176.97},
      {"time": "2011-04-30T13:00", "level": 176.77}, {"time": "2011-04-30T21:00", "level": 176.77}, {"time": "2011-05-01T05:00", "level": 176.70},
      {"time": "2011-05-01T13:00", "level": 176.77}, {"time": "2011-05-01T21:00", "level": 176.73}, {"time": "2011-05-02T05:00", "level": 176.70},
      {"time": "2011-05-02T13:00", "level": 176.66}, {"time": "2011-05-02T21:00", "level": 176.62}, {"time": "2011-05-03T05:00", "level": 176.54},
      {"time": "2011-05-03T13:00", "level": 176.62}, {"time": "2011-05-03T21:00", "level": 176.58}, {"time": "2011-05-04T05:00", "level": 176.50},
      {"time": "2011-05-04T13:00", "level": 176.64}, {"time": "2011-05-04T21:00", "level": 176.70}, {"time": "2011-05-05T05:00", "level": 176.70},
      {"time": "2011-05-05T13:00", "level": 176.73}, {"time": "2011-05-05T21:00", "level": 176.70}, {"time": "2011-05-06T05:00", "level": 176.58},
      {"time": "2011-05-06T13:00", "level": 176.64}, {"time": "2011-05-06T21:00", "level": 176.62}, {"time": "2011-05-07T05:00", "level": 176.62},
      {"time": "2011-05-07T13:00", "level": 176.58}, {"time": "2011-05-07T21:00", "level": 176.43}, {"time": "2011-05-08T05:00", "level": 176.35},
      {"time": "2011-05-08T13:00", "level": 176.43}, {"time": "2011-05-08T21:00", "level": 176.39}, {"time": "2011-05-09T05:00", "level": 176.43},
      {"time": "2011-05-09T13:00", "level": 176.35}, {"time": "2011-05-09T21:00", "level": 176.16}, {"time": "2011-05-10T05:00", "level": 176.04},
      {"time": "2011-05-10T13:00", "level": 176.08}, {"time": "2011-05-10T21:00", "level": 175.62}, {"time": "2011-05-11T05:00", "level": 175.89},
      {"time": "2011-05-11T13:00", "level": 175.77}, {"time": "2011-05-11T21:00", "level": 175.58}, {"time": "2011-05-12T05:00", "level": 175.35},
      {"time": "2011-05-12T13:00", "level": 175.46}, {"time": "2011-05-12T21:00", "level": 175.31}, {"time": "2011-05-13T05:00", "level": 175.19},
      {"time": "2011-05-13T13:00", "level": 175.10}, {"time": "2011-05-13T21:00", "level": 174.96}, {"time": "2011-05-14T05:00", "level": 174.77},
      {"time": "2011-05-14T13:00", "level": 174.96}, {"time": "2011-05-14T21:00", "level": 174.38}, {"time": "2011-05-15T05:00", "level": 174.58},
      {"time": "2011-05-15T13:00", "level": 174.42}, {"time": "2011-05-15T21:00", "level": 173.04}, {"time": "2011-05-16T05:00", "level": 173.31},
      {"time": "2011-05-16T13:00", "level": 173.75}, {"time": "2011-05-16T21:00", "level": 172.40}, {"time": "2011-05-17T05:00", "level": 172.27},
      {"time": "2011-05-17T13:00", "level": 173.08}, {"time": "2011-05-17T21:00", "level": 171.53}, {"time": "2011-05-18T01:00", "level": 171.05},
      {"time": "2011-05-18T05:00", "level": 171.73}, {"time": "2011-05-18T13:00", "level": 172.54}, {"time": "2011-05-18T21:00", "level": 172.46},
      {"time": "2011-05-19T05:00", "level": 172.54}, {"time": "2011-05-19T13:00", "level": 172.54}, {"time": "2011-05-19T21:00", "level": 170.67},
      {"time": "2011-05-20T01:00", "level": 169.99}, {"time": "2011-05-20T05:00", "level": 170.86}, {"time": "2011-05-20T13:00", "level": 172.15},
      {"time": "2011-05-20T21:00", "level": 172.34}, {"time": "2011-05-21T05:00", "level": 172.44}, {"time": "2011-05-21T13:00", "level": 172.42},
      {"time": "2011-05-21T21:00", "level": 171.57}, {"time": "2011-05-22T05:00", "level": 172.11}, {"time": "2011-05-22T13:00", "level": 171.96},
      {"time": "2011-05-22T21:00", "level": 170.86}, {"time": "2011-05-23T05:00", "level": 170.09}, {"time": "2011-05-23T13:00", "level": 171.69},
      {"time": "2011-05-23T21:00", "level": 170.42}, {"time": "2011-05-24T05:00", "level": 170.38}, {"time": "2011-05-24T13:00", "level": 170.86}
    ]
  },
  "layer": [
    {
      "encoding": {
        "y": {
          "field": "level", "type": "quantitative",
          "scale": {"domain": [155.7196, 185.1876], "nice": false, "zero": false},
          "axis": {
            "orient": "right",
            "values": [155.939, 163.1695, 170.4, 177.6305, 184.861],
            "format": ".4f",
            "title": "LEVEL (ft)",
            "titleFont": "Liberation Sans", "titleFontSize": 12, "titleFontWeight": "normal", "titleColor": "#000000",
            "titleAngle": 270, "titleBaseline": "top", "titlePadding": 7,
            "labelFont": "Liberation Mono", "labelFontSize": 14.5, "labelColor": "#4B4BFF", "labelPadding": 2,
            "tickColor": "#4B4BFF", "tickSize": 6, "domainColor": "#5A5AFF", "domainWidth": 1.5,
            "labelOverlap": false, "labelFlush": false
          }
        }
      },
      "layer": [
        {
          "data": {"values": [{"level": 176.85}]},
          "mark": {"type": "rule", "color": "#4F81BD", "strokeWidth": 2},
          "encoding": {}
        },
        {
          "data": {"name": "level"},
          "mark": {"type": "line", "color": "#2B2BFF", "strokeWidth": 1.8},
          "encoding": {
            "x": {
              "field": "time", "type": "temporal",
              "scale": {"domain": [{"year": 2011, "month": 3, "date": 8, "hours": 6, "minutes": 30}, {"year": 2011, "month": 5, "date": 24, "hours": 17, "minutes": 20}]},
              "axis": {
                "values": [
                  {"year": 2011, "month": 3, "date": 8, "hours": 13, "minutes": 0},
                  {"year": 2011, "month": 3, "date": 16, "hours": 5, "minutes": 48},
                  {"year": 2011, "month": 3, "date": 23, "hours": 22, "minutes": 36},
                  {"year": 2011, "month": 3, "date": 31, "hours": 15, "minutes": 24},
                  {"year": 2011, "month": 4, "date": 8, "hours": 8, "minutes": 12},
                  {"year": 2011, "month": 4, "date": 16, "hours": 1, "minutes": 0},
                  {"year": 2011, "month": 4, "date": 23, "hours": 17, "minutes": 48},
                  {"year": 2011, "month": 5, "date": 1, "hours": 10, "minutes": 36},
                  {"year": 2011, "month": 5, "date": 9, "hours": 3, "minutes": 24},
                  {"year": 2011, "month": 5, "date": 16, "hours": 20, "minutes": 12},
                  {"year": 2011, "month": 5, "date": 24, "hours": 13, "minutes": 0}
                ]
              }
            }
          }
        },
        {
          "data": {"values": [{"time": "2011-03-18T01:15", "level": 176.31}]},
          "mark": {
            "type": "point",
            "shape": "M-0.89,0A0.89,1,0,1,1,0.89,0A0.89,1,0,1,1,-0.89,0Z",
            "filled": false, "size": 21316, "strokeWidth": 4.5, "color": "#FFC000", "opacity": 1
          },
          "encoding": {
            "x": {
              "field": "time", "type": "temporal",
              "scale": {"domain": [{"year": 2011, "month": 3, "date": 8, "hours": 6, "minutes": 30}, {"year": 2011, "month": 5, "date": 24, "hours": 17, "minutes": 20}]},
              "axis": {
                "values": [
                  {"year": 2011, "month": 3, "date": 8, "hours": 13, "minutes": 0},
                  {"year": 2011, "month": 3, "date": 16, "hours": 5, "minutes": 48},
                  {"year": 2011, "month": 3, "date": 23, "hours": 22, "minutes": 36},
                  {"year": 2011, "month": 3, "date": 31, "hours": 15, "minutes": 24},
                  {"year": 2011, "month": 4, "date": 8, "hours": 8, "minutes": 12},
                  {"year": 2011, "month": 4, "date": 16, "hours": 1, "minutes": 0},
                  {"year": 2011, "month": 4, "date": 23, "hours": 17, "minutes": 48},
                  {"year": 2011, "month": 5, "date": 1, "hours": 10, "minutes": 36},
                  {"year": 2011, "month": 5, "date": 9, "hours": 3, "minutes": 24},
                  {"year": 2011, "month": 5, "date": 16, "hours": 20, "minutes": 12},
                  {"year": 2011, "month": 5, "date": 24, "hours": 13, "minutes": 0}
                ]
              }
            }
          }
        }
      ]
    },
    {
      "data": {"name": "temperature"},
      "mark": {"type": "line", "color": "#C60C3F", "strokeWidth": 2},
      "encoding": {
        "x": {
          "field": "time", "type": "temporal",
          "scale": {"domain": [{"year": 2011, "month": 3, "date": 8, "hours": 6, "minutes": 30}, {"year": 2011, "month": 5, "date": 24, "hours": 17, "minutes": 20}]},
          "axis": {
            "values": [
              {"year": 2011, "month": 3, "date": 8, "hours": 13, "minutes": 0},
              {"year": 2011, "month": 3, "date": 16, "hours": 5, "minutes": 48},
              {"year": 2011, "month": 3, "date": 23, "hours": 22, "minutes": 36},
              {"year": 2011, "month": 3, "date": 31, "hours": 15, "minutes": 24},
              {"year": 2011, "month": 4, "date": 8, "hours": 8, "minutes": 12},
              {"year": 2011, "month": 4, "date": 16, "hours": 1, "minutes": 0},
              {"year": 2011, "month": 4, "date": 23, "hours": 17, "minutes": 48},
              {"year": 2011, "month": 5, "date": 1, "hours": 10, "minutes": 36},
              {"year": 2011, "month": 5, "date": 9, "hours": 3, "minutes": 24},
              {"year": 2011, "month": 5, "date": 16, "hours": 20, "minutes": 12},
              {"year": 2011, "month": 5, "date": 24, "hours": 13, "minutes": 0}
            ]
          }
        },
        "y": {
          "field": "temp", "type": "quantitative",
          "scale": {"domain": [64.1974, 64.8169], "nice": false, "zero": false},
          "axis": {
            "orient": "left",
            "values": [64.202, 64.354, 64.506, 64.658, 64.81],
            "format": ".4f",
            "title": "TEMPERATURE (°F)",
            "titleFont": "Liberation Sans", "titleFontSize": 11, "titleFontWeight": "normal", "titleColor": "#000000",
            "titleAngle": 270, "titleBaseline": "bottom", "titlePadding": 3,
            "labelFont": "Liberation Mono", "labelFontSize": 14.5, "labelColor": "#CC2A55", "labelPadding": 2,
            "tickColor": "#CC2A55", "tickSize": 6, "domainColor": "#CC2A55", "domainWidth": 1.5,
            "labelOverlap": false, "labelFlush": false
          }
        }
      }
    }
  ],
  "resolve": {"scale": {"y": "independent"}}
}
